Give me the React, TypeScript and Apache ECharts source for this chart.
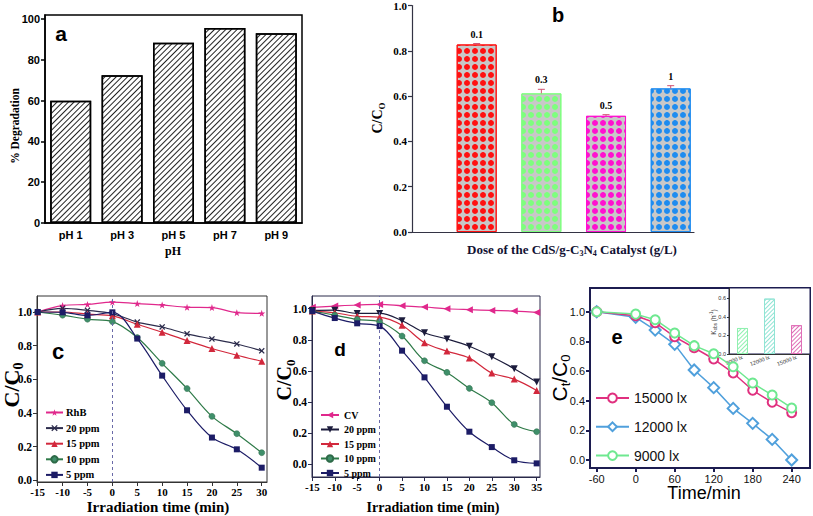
import React, { useEffect, useRef } from 'react';
import * as echarts from 'echarts';

const SERIF = '"Liberation Serif", "DejaVu Serif", serif';
const SANS = '"Liberation Sans", Arial, sans-serif';

// ---- panel a ----
const phCategories = ['pH 1', 'pH 3', 'pH 5', 'pH 7', 'pH 9'];
const degradation = [60, 72.5, 88.4, 95.6, 93.1];
const aTicks = [0, 20, 40, 60, 80, 100];

// ---- panel b ----
const doseLabels = ['0.1', '0.3', '0.5', '1'];
const doseValues = [0.828, 0.612, 0.513, 0.634];
const doseErrors = [0.004, 0.018, 0.005, 0.012];
const bTicks = [0, 0.2, 0.4, 0.6, 0.8, 1.0];

// ---- panel c ----
const timeC = [-15, -10, -5, 0, 5, 10, 15, 20, 25, 30];
const cRhB = [1.0, 1.038, 1.045, 1.059, 1.05, 1.042, 1.028, 1.026, 0.996, 0.992];
const c20 = [1.0, 1.022, 1.01, 0.99, 0.94, 0.911, 0.87, 0.84, 0.81, 0.769];
const c15 = [1.0, 1.0, 0.987, 0.977, 0.927, 0.88, 0.83, 0.783, 0.743, 0.707];
const c10 = [1.0, 0.981, 0.957, 0.943, 0.848, 0.695, 0.545, 0.38, 0.277, 0.164];
const c5 = [1.0, 0.998, 0.98, 0.998, 0.842, 0.622, 0.416, 0.254, 0.184, 0.075];
const cXTicks = [-15, -10, -5, 0, 5, 10, 15, 20, 25, 30];
const cdYTicks = [0, 0.2, 0.4, 0.6, 0.8, 1.0];

// ---- panel d ----
const timeD = [-15, -10, -5, 0, 5, 10, 15, 20, 25, 30, 35];
const dCV = [1.009, 1.017, 1.024, 1.028, 1.019, 1.011, 1.0, 0.994, 0.989, 0.985, 0.976];
const d20 = [0.989, 0.991, 0.97, 0.97, 0.923, 0.845, 0.805, 0.758, 0.691, 0.614, 0.528];
const d15 = [0.985, 0.974, 0.951, 0.946, 0.893, 0.781, 0.727, 0.682, 0.586, 0.547, 0.474];
const d10 = [0.985, 0.959, 0.931, 0.916, 0.824, 0.665, 0.59, 0.487, 0.395, 0.255, 0.208];
const d5 = [0.985, 0.94, 0.906, 0.888, 0.73, 0.558, 0.369, 0.208, 0.109, 0.024, 0.004];
const dXTicks = [-15, -10, -5, 0, 5, 10, 15, 20, 25, 30, 35];

// ---- panel e ----
const timeE = [-60, 0, 30, 60, 90, 120, 150, 180, 210, 240];
const e15000 = [1.0, 0.973, 0.926, 0.831, 0.757, 0.681, 0.587, 0.47, 0.389, 0.319];
const e12000 = [1.0, 0.962, 0.876, 0.78, 0.607, 0.488, 0.348, 0.247, 0.139, 0.0];
const e9000 = [1.0, 0.984, 0.946, 0.856, 0.771, 0.717, 0.629, 0.519, 0.438, 0.351];
const eXTicks = [-60, 0, 60, 120, 180, 240];
const eYTicks = [0, 0.2, 0.4, 0.6, 0.8, 1.0];

// ---- inset ----
const insetCats = ['9000 lx', '12000 lx', '15000 lx'];
const kobs = [0.28, 0.596, 0.31];
const insetTicks = [0, 0.2, 0.4, 0.6];

// styles
const doseColors = ['#ff1010', '#7dff7d', '#ff10d0', '#1e8cf0'];
const insetColors = ['#90f0b0', '#90e4d4', '#e070b8'];

const X_SYMBOL = 'path://M0,1.5L1.5,0L5,3.5L8.5,0L10,1.5L6.5,5L10,8.5L8.5,10L5,6.5L1.5,10L0,8.5L3.5,5Z';
const STAR = 'path://M5,0L6.2,3.6L10,3.6L7,5.9L8.1,9.5L5,7.3L1.9,9.5L3,5.9L0,3.6L3.8,3.6Z';
const LEFT_TRI = 'path://M0,5L10,0L10,10Z';
const DOWN_TRI = 'path://M0,0L10,0L5,10Z';

const f1 = (v: number) => v.toFixed(1);

function pair(xs: number[], ys: number[]) {
  return xs.map((x, i) => [x, ys[i]]);
}

function lineSeries(name: string, xi: number, xs: number[], ys: number[], color: string, symbol: string, size: number, extra: any = {}) {
  return {
    name,
    type: 'line',
    xAxisIndex: xi,
    yAxisIndex: xi,
    data: pair(xs, ys),
    smooth: 0.35,
    symbol,
    symbolSize: size,
    lineStyle: { color, width: 1.2 },
    itemStyle: { color },
    z: 3,
    ...extra,
  };
}

const serifTick = { fontFamily: SERIF, fontWeight: 'bold', fontSize: 11.5, color: '#000' };

function valueAxis(grid: number, min: number, max: number, ticks: number[], label: any, line: any, fmt?: (v: number) => string, margin = 5) {
  return {
    gridIndex: grid,
    type: 'value',
    min,
    max,
    axisLine: { show: true, onZero: false, lineStyle: line },
    axisTick: { show: true, length: 4, inside: false, customValues: ticks, lineStyle: line },
    axisLabel: { ...label, customValues: ticks, formatter: fmt, margin },
    splitLine: { show: false },
  };
}

const dashLine = {
  silent: true,
  symbol: ['none', 'none'],
  label: { show: false },
  lineStyle: { type: [3, 3], color: '#6a6aa8', width: 1 },
  data: [{ xAxis: 0 }],
};

function txt(x: number, y: number, text: string, font: any, rotation = 0, rich?: any) {
  return {
    type: 'text',
    x,
    y,
    rotation,
    z: 100,
    style: { text, align: 'center', verticalAlign: 'middle', fill: '#000', ...font, rich },
  };
}

const option: any = {
  animation: false,
  backgroundColor: '#fff',
  grid: [
    { left: 45, top: 15, width: 257, height: 208, show: true, borderColor: '#000', borderWidth: 1.5 },
    { left: 412, top: 5, width: 282, height: 227 },
    { left: 37, top: 296, width: 230, height: 186, show: true, borderColor: '#333', borderWidth: 1 },
    { left: 312, top: 296, width: 228, height: 181, show: true, borderColor: '#2a2a4a', borderWidth: 1 },
    { left: 590, top: 288, width: 220, height: 180, show: true, borderColor: '#1c1c50', borderWidth: 2 },
    { left: 729, top: 288, width: 81, height: 66, show: true, borderColor: '#1c1c50', borderWidth: 1, backgroundColor: '#fff' },
  ],
  xAxis: [
    {
      gridIndex: 0,
      type: 'category',
      data: phCategories,
      axisLine: { lineStyle: { color: '#000', width: 1.5 } },
      axisTick: { alignWithLabel: true, length: 4, lineStyle: { color: '#000', width: 1.5 } },
      axisLabel: { color: '#000', fontFamily: SANS, fontWeight: 'bold', fontSize: 11, margin: 6 },
    },
    {
      gridIndex: 1,
      type: 'value',
      min: 0,
      max: 4.36,
      axisLine: { show: true, onZero: false, lineStyle: { color: '#333344', width: 1.2 } },
      axisTick: { show: false },
      axisLabel: { show: false },
      splitLine: { show: false },
    },
    valueAxis(2, -15.14, 31.06, cXTicks, { ...serifTick, fontSize: 11 }, { color: '#333', width: 1 }, undefined, 4),
    valueAxis(3, -15.07, 35.74, dXTicks, { ...serifTick, fontSize: 11 }, { color: '#2a2a4a', width: 1 }, undefined, 4),
    valueAxis(4, -70.3, 268.2, eXTicks, { fontFamily: SANS, fontSize: 11, color: '#111' }, { color: '#1c1c50', width: 2 }),
    {
      gridIndex: 5,
      type: 'category',
      data: insetCats,
      axisLine: { lineStyle: { color: '#333', width: 1 } },
      axisTick: { show: false },
      axisLabel: { fontFamily: SANS, fontSize: 5.5, color: '#333', rotate: 20, margin: 3, interval: 0 },
    },
  ],
  yAxis: [
    valueAxis(0, 0, 102, aTicks, { fontFamily: SANS, fontWeight: 'bold', fontSize: 11, color: '#000' }, { color: '#000', width: 1.5 }),
    valueAxis(1, 0, 1.0, bTicks, { fontFamily: SERIF, fontWeight: 'bold', fontSize: 11, color: '#000' }, { color: '#333344', width: 1.2 }, f1),
    valueAxis(2, -0.0101, 1.095, cdYTicks, serifTick, { color: '#333', width: 1 }, f1),
    valueAxis(3, -0.0837, 1.082, cdYTicks, serifTick, { color: '#2a2a4a', width: 1 }, f1),
    valueAxis(4, -0.054, 1.16, eYTicks, { fontFamily: SANS, fontSize: 11, color: '#111' }, { color: '#1c1c50', width: 2 }, f1),
    {
      ...valueAxis(5, 0, 0.71, insetTicks, { fontFamily: SANS, fontSize: 5.5, color: '#333' }, { color: '#333', width: 1 }, f1, 3),
      axisTick: { show: true, length: 2, customValues: insetTicks, lineStyle: { color: '#333' } },
    },
  ],
  legend: [
    {
      left: 45,
      top: 407,
      orient: 'vertical',
      padding: 0,
      itemWidth: 17,
      itemHeight: 8,
      itemGap: 4.6,
      data: ['RhB', '20 ppm', '15 ppm', '10 ppm', '5 ppm'],
      textStyle: { fontFamily: SERIF, fontWeight: 'bold', fontSize: 10.5, color: '#000', padding: [0, 0, 0, -2] },
    },
    {
      left: 320,
      top: 410,
      orient: 'vertical',
      padding: 0,
      itemWidth: 18,
      itemHeight: 8,
      itemGap: 4.5,
      data: ['CV ', '20 ppm ', '15 ppm ', '10 ppm ', '5 ppm '],
      formatter: (n: string) => n.trim(),
      textStyle: { fontFamily: SERIF, fontWeight: 'bold', fontSize: 10, color: '#000' },
    },
    {
      left: 595,
      top: 391,
      orient: 'vertical',
      padding: 0,
      itemWidth: 33,
      itemHeight: 11,
      itemGap: 14.8,
      data: ['15000 lx', '12000 lx', '9000 lx'],
      textStyle: { fontFamily: SANS, fontSize: 14, color: '#111' },
    },
  ],
  series: [
    {
      type: 'bar',
      xAxisIndex: 0,
      yAxisIndex: 0,
      data: degradation,
      barWidth: 41,
      itemStyle: {
        color: '#fff',
        borderColor: '#000',
        borderWidth: 1.5,
        decal: { symbol: 'rect', symbolSize: 1, dashArrayX: [1, 0], dashArrayY: [1, 2.2], rotation: -Math.PI / 4, color: '#222' },
      },
    },
    {
      type: 'bar',
      xAxisIndex: 1,
      yAxisIndex: 1,
      barWidth: 40,
      data: doseValues.map((v, i) => ({
        value: [i + 1, v],
        itemStyle: {
          color: '#c8c8c8',
          borderColor: doseColors[i],
          borderWidth: 1,
          decal: { symbol: 'circle', symbolSize: 1, dashArrayX: [6, 2], dashArrayY: [6, 2], color: doseColors[i] },
        },
      })),
    },
    {
      type: 'custom',
      xAxisIndex: 1,
      yAxisIndex: 1,
      data: doseValues.map((v, i) => [i + 1, v, v + doseErrors[i], i]),
      z: 5,
      renderItem: (params: any, api: any) => {
        const x = api.value(0);
        const base = api.coord([x, api.value(1)]);
        const top = api.coord([x, api.value(2)]);
        const label = doseLabels[api.value(3)];
        return {
          type: 'group',
          children: [
            { type: 'line', shape: { x1: top[0], y1: base[1], x2: top[0], y2: top[1] }, style: { stroke: '#d05070', lineWidth: 1 } },
            { type: 'line', shape: { x1: top[0] - 3.5, y1: top[1], x2: top[0] + 3.5, y2: top[1] }, style: { stroke: '#d05070', lineWidth: 1 } },
            {
              type: 'text',
              x: top[0],
              y: top[1] - 9.5,
              style: { text: label, align: 'center', verticalAlign: 'middle', fontFamily: SERIF, fontWeight: 'bold', fontSize: 10, fill: '#000' },
            },
          ],
        };
      },
    },
    // panel c
    lineSeries('RhB', 2, timeC, cRhB, '#e0288c', STAR, 7, { markLine: dashLine }),
    lineSeries('20 ppm', 2, timeC, c20, '#2c2c4c', X_SYMBOL, 6),
    lineSeries('15 ppm', 2, timeC, c15, '#d2283c', 'triangle', 7),
    lineSeries('10 ppm', 2, timeC, c10, '#2e7a48', 'circle', 6, { itemStyle: { color: '#3f8f6a', borderColor: '#2e6a48', borderWidth: 0.5 } }),
    lineSeries('5 ppm', 2, timeC, c5, '#1c1c66', 'rect', 6),
    // panel d
    lineSeries('CV ', 3, timeD, dCV, '#e0288c', LEFT_TRI, 7, { markLine: dashLine }),
    lineSeries('20 ppm ', 3, timeD, d20, '#1c1c3c', DOWN_TRI, 7),
    lineSeries('15 ppm ', 3, timeD, d15, '#d2283c', 'triangle', 7),
    lineSeries('10 ppm ', 3, timeD, d10, '#2e7a48', 'circle', 6, { itemStyle: { color: '#3f8f6a', borderColor: '#2e6a48', borderWidth: 0.5 } }),
    lineSeries('5 ppm ', 3, timeD, d5, '#1c1c66', 'rect', 6),
    // panel e
    {
      name: '15000 lx', type: 'line', xAxisIndex: 4, yAxisIndex: 4, data: pair(timeE, e15000),
      symbol: 'emptyCircle', symbolSize: 9, lineStyle: { color: '#e0307f', width: 1.5 },
      itemStyle: { color: '#e0307f', borderWidth: 2 }, z: 4,
    },
    {
      name: '12000 lx', type: 'line', xAxisIndex: 4, yAxisIndex: 4, data: pair(timeE, e12000),
      symbol: 'emptyDiamond', symbolSize: 11, lineStyle: { color: '#50a0dc', width: 1.5 },
      itemStyle: { color: '#50a0dc', borderWidth: 2 }, z: 3,
    },
    {
      name: '9000 lx', type: 'line', xAxisIndex: 4, yAxisIndex: 4, data: pair(timeE, e9000),
      symbol: 'emptyCircle', symbolSize: 9, lineStyle: { color: '#6ee890', width: 1.5 },
      itemStyle: { color: '#6ee890', borderWidth: 2 }, z: 5,
    },
    // inset
    {
      type: 'bar', xAxisIndex: 5, yAxisIndex: 5, barWidth: 11, z: 12,
      data: kobs.map((v, i) => ({
        value: v,
        itemStyle: {
          color: 'rgba(255,255,255,0)',
          borderColor: insetColors[i],
          borderWidth: 1,
          decal: { symbol: 'rect', symbolSize: 1, dashArrayX: [1, 0], dashArrayY: [1, 2], rotation: -Math.PI / 4, color: insetColors[i] },
        },
      })),
    },
  ],
  graphic: [
    // panel a
    txt(15, 126, '% Degradation', { fontFamily: SERIF, fontWeight: 'bold', fontSize: 11.5 }, Math.PI / 2),
    txt(173, 251, 'pH', { fontFamily: SERIF, fontWeight: 'bold', fontSize: 12 }),
    txt(61, 33, 'a', { fontFamily: SANS, fontWeight: 'bold', fontSize: 21 }),
    // panel b
    txt(377, 118, '{m|C/C}{s|O}', {}, Math.PI / 2, {
      m: { fontFamily: SERIF, fontWeight: 'bold', fontSize: 14, lineHeight: 18, fill: '#000' },
      s: { fontFamily: SERIF, fontWeight: 'bold', fontSize: 9, lineHeight: 18, verticalAlign: 'bottom', fill: '#000' },
    }),
    txt(572, 249, '{m|Dose of the CdS/g-C}{s|3}{m|N}{s|4}{m| Catalyst (g/L)}', {}, 0, {
      m: { fontFamily: SERIF, fontWeight: 'bold', fontSize: 13, lineHeight: 17, fill: '#111133' },
      s: { fontFamily: SERIF, fontWeight: 'bold', fontSize: 8, lineHeight: 17, verticalAlign: 'bottom', fill: '#111133' },
    }),
    txt(558, 15, 'b', { fontFamily: SANS, fontWeight: 'bold', fontSize: 20 }),
    // panel c
    txt(11, 385, '{m|C/C}{s|0}', {}, Math.PI / 2, {
      m: { fontFamily: SERIF, fontWeight: 'bold', fontSize: 22, lineHeight: 28, fill: '#000' },
      s: { fontFamily: SERIF, fontWeight: 'bold', fontSize: 14, lineHeight: 28, verticalAlign: 'bottom', fill: '#000' },
    }),
    txt(158, 507, 'Irradiation time (min)', { fontFamily: SERIF, fontWeight: 'bold', fontSize: 15 }),
    txt(58, 351, 'c', { fontFamily: SANS, fontWeight: 'bold', fontSize: 22 }),
    // panel d
    txt(284, 380, '{m|C/C}{s|0}', {}, Math.PI / 2, {
      m: { fontFamily: SERIF, fontWeight: 'bold', fontSize: 20, lineHeight: 26, fill: '#000' },
      s: { fontFamily: SERIF, fontWeight: 'bold', fontSize: 13, lineHeight: 26, verticalAlign: 'bottom', fill: '#000' },
    }),
    txt(433, 507, 'Irradiation time (min)', { fontFamily: SERIF, fontWeight: 'bold', fontSize: 14 }),
    txt(340, 349, 'd', { fontFamily: SANS, fontWeight: 'bold', fontSize: 19 }),
    // panel e
    txt(559, 378, '{m|C}{s|t}{m|/C}{s|0}', {}, Math.PI / 2, {
      m: { fontFamily: SANS, fontSize: 21, lineHeight: 26, fill: '#000' },
      s: { fontFamily: SANS, fontSize: 13, lineHeight: 26, verticalAlign: 'bottom', fill: '#000' },
    }),
    txt(704, 493, 'Time/min', { fontFamily: SANS, fontSize: 18, fill: '#000' }),
    txt(617, 337, 'e', { fontFamily: SANS, fontWeight: 'bold', fontSize: 20 }),
    // inset y title
    txt(713, 322, '{m|K}{s|obs}{m| (h}{p|-1}{m|)}', {}, Math.PI / 2, {
      m: { fontFamily: SANS, fontSize: 6.5, lineHeight: 9, fill: '#333' },
      s: { fontFamily: SANS, fontSize: 4.5, lineHeight: 9, verticalAlign: 'bottom', fill: '#333' },
      p: { fontFamily: SANS, fontSize: 4.5, lineHeight: 9, verticalAlign: 'top', fill: '#333' },
    }),
  ],
};

export default function App() {
  const ref = useRef<HTMLDivElement>(null);
  useEffect(() => {
    const chart = echarts.init(ref.current!, null, { renderer: 'svg' });
    chart.setOption(option);
    return () => chart.dispose();
  }, []);
  return (
    <div
      ref={ref}
      style={{ position: 'absolute', left: 0, top: 0, width: 813, height: 516, background: '#fff' }}
    />
  );
}
